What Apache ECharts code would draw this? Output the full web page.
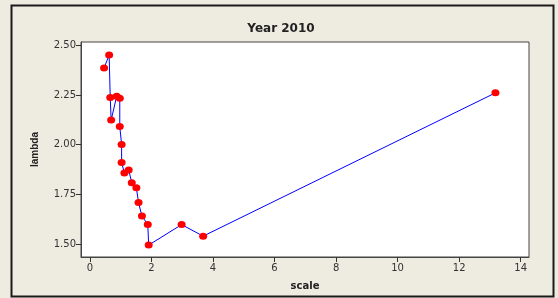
<!DOCTYPE html>
<html><head><meta charset="utf-8">
<script src="https://cdn.jsdelivr.net/npm/echarts@6/dist/echarts.min.js"></script>
<style>html,body{margin:0;padding:0;background:#fff}#c{width:558px;height:298px}</style>
</head><body><div id="c"></div>
<script>
const titleText = 'Year 2010';
const xName = 'scale';
const yName = 'lambda';
const scaleVals = [0.46, 0.625, 0.66, 0.69, 0.87, 0.97, 0.97, 1.03, 1.03, 1.12, 1.26, 1.36, 1.51, 1.58, 1.69, 1.88, 1.91, 2.98, 3.68, 13.18];
const lambdaVals = [2.386, 2.451, 2.238, 2.124, 2.244, 2.234, 2.092, 2.001, 1.91, 1.858, 1.873, 1.809, 1.783, 1.709, 1.641, 1.598, 1.495, 1.598, 1.54, 2.261];
const xTicks = [0, 2, 4, 6, 8, 10, 12, 14];
const yTicks = [1.5, 1.75, 2.0, 2.25, 2.5];

const data = scaleVals.map((v, i) => [v, lambdaVals[i]]);
const chart = echarts.init(document.getElementById('c'), null, {renderer: 'canvas'});
const labelStyle = {color: '#333', fontSize: 10, fontFamily: 'DejaVu Sans'};
chart.setOption({
  backgroundColor: '#EEEBE1',
  animation: false,
  graphic: [{
    type: 'rect', z: 0, silent: true,
    shape: {x: 11.5, y: 5.5, width: 542, height: 291},
    style: {fill: 'none', stroke: '#1a1a1a', lineWidth: 2}
  }],
  title: {
    text: titleText, left: 276, top: 18, textAlign: 'center',
    textStyle: {fontSize: 12, fontWeight: 'bold', color: '#222', fontFamily: 'DejaVu Sans'}
  },
  grid: {left: 81, top: 42, right: 29, bottom: 41, show: true, backgroundColor: '#fff', borderColor: '#444', borderWidth: 1},
  xAxis: {
    type: 'value', min: -0.29, max: 14.27,
    name: xName, nameLocation: 'middle', nameGap: 24,
    nameTextStyle: {fontSize: 10, fontWeight: 'bold', color: '#222', fontFamily: 'DejaVu Sans'},
    axisLine: {show: true, onZero: false, lineStyle: {color: '#444'}},
    axisTick: {show: true, length: 5, lineStyle: {color: '#333'}, customValues: xTicks},
    axisLabel: Object.assign({margin: 6, customValues: xTicks, formatter: v => String(v)}, labelStyle),
    splitLine: {show: false}
  },
  yAxis: {
    type: 'value', min: 1.435, max: 2.517,
    name: yName, nameLocation: 'middle', nameGap: 41, nameRotate: 90,
    nameTextStyle: {fontSize: 10, fontWeight: 'bold', color: '#222', fontFamily: 'Liberation Sans'},
    axisLine: {show: true, onZero: false, lineStyle: {color: '#444'}},
    axisTick: {show: true, length: 5, lineStyle: {color: '#333'}, customValues: yTicks},
    axisLabel: Object.assign({margin: 5, customValues: yTicks, formatter: v => v.toFixed(2)}, labelStyle),
    splitLine: {show: false}
  },
  series: [{
    type: 'line', data: data,
    lineStyle: {color: '#0000FF', width: 1},
    symbol: 'circle', symbolSize: [8, 7],
    itemStyle: {color: '#FF0000'},
    z: 3
  }]
});
</script></body></html>
